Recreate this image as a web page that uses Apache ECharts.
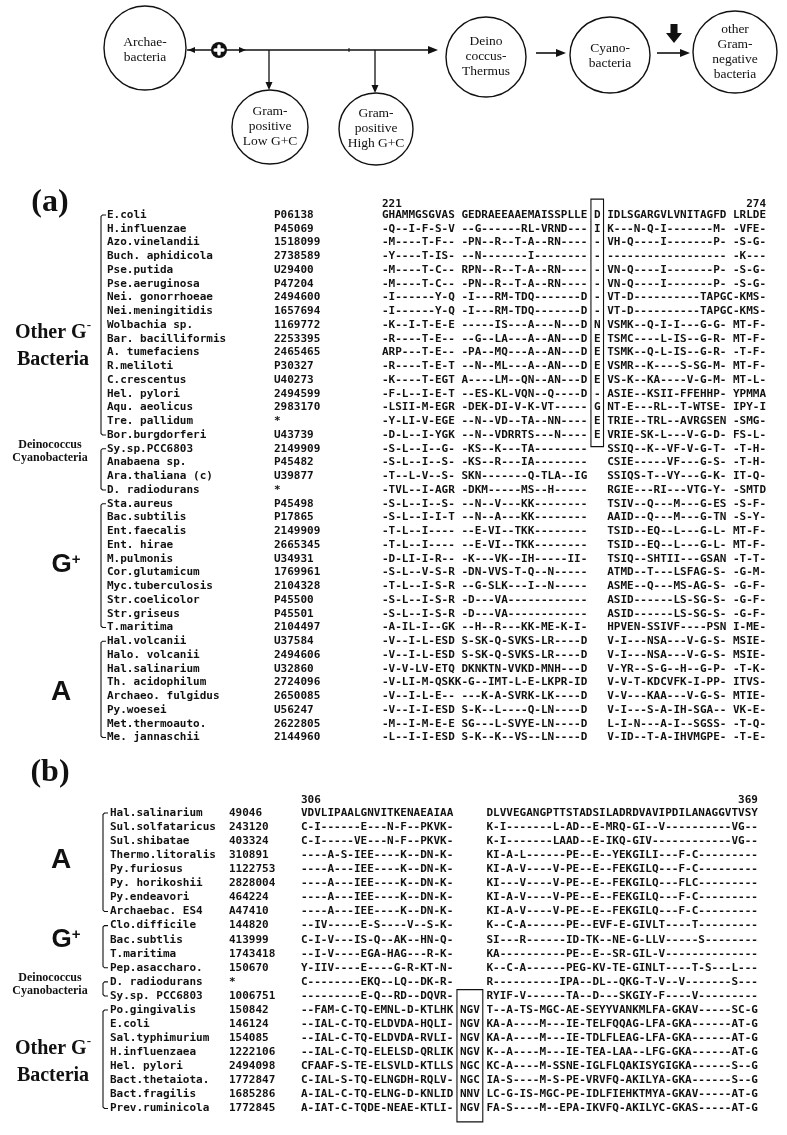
<!DOCTYPE html>
<html><head><meta charset="utf-8">
<script src="https://cdn.jsdelivr.net/npm/echarts@6/dist/echarts.min.js"></script>
<style>html,body{margin:0;padding:0;background:#fff}#c{width:787px;height:1135px}</style>
</head><body><div id="c"></div>
<script>
// ================= DATA =================
const diagramLabels = ['Archae-\nbacteria', 'Gram-\npositive\nLow G+C', 'Gram-\npositive\nHigh G+C',
  'Deino\ncoccus-\nThermus', 'Cyano-\nbacteria', 'other\nGram-\nnegative\nbacteria'];

const aPositions = ['221', '274'];
const aNames = ['E.coli','H.influenzae','Azo.vinelandii','Buch. aphidicola','Pse.putida','Pse.aeruginosa',
  'Nei. gonorrhoeae','Nei.meningitidis','Wolbachia sp.','Bar. bacilliformis','A. tumefaciens','R.meliloti',
  'C.crescentus','Hel. pylori','Aqu. aeolicus','Tre. pallidum','Bor.burgdorferi',
  'Sy.sp.PCC6803','Anabaena sp.','Ara.thaliana (c)','D. radiodurans',
  'Sta.aureus','Bac.subtilis','Ent.faecalis','Ent. hirae','M.pulmonis','Cor.glutamicum','Myc.tuberculosis',
  'Str.coelicolor','Str.griseus','T.maritima',
  'Hal.volcanii','Halo. volcanii','Hal.salinarium','Th. acidophilum','Archaeo. fulgidus','Py.woesei',
  'Met.thermoauto.','Me. jannaschii'];
const aAcc = ['P06138','P45069','1518099','2738589','U29400','P47204','2494600','1657694','1169772','2253395',
  '2465465','P30327','U40273','2494599','2983170','*','U43739','2149909','P45482','U39877','*','P45498','P17865',
  '2149909','2665345','U34931','1769961','2104328','P45500','P45501','2104497','U37584','2494606','U32860',
  '2724096','2650085','U56247','2622805','2144960'];
const aSeq1 = [
  'GHAMMGSGVAS GEDRAEEAAEMAISSPLLE',
  '-Q--I-F-S-V --G------RL-VRND---',
  '-M----T-F-- -PN--R--T-A--RN----',
  '-Y----T-IS- --N-------I--------',
  '-M----T-C-- RPN--R--T-A--RN----',
  '-M----T-C-- -PN--R--T-A--RN----',
  '-I------Y-Q -I---RM-TDQ-------D',
  '-I------Y-Q -I---RM-TDQ-------D',
  '-K--I-T-E-E -----IS---A---N---D',
  '-R----T-E-- --G--LA---A--AN---D',
  'ARP---T-E-- -PA--MQ---A--AN---D',
  '-R----T-E-T --N--ML---A--AN---D',
  '-K----T-EGT A----LM--QN--AN---D',
  '-F-L--I-E-T --ES-KL-VQN--Q----D',
  '-LSII-M-EGR -DEK-DI-V-K-VT-----',
  '-Y-LI-V-EGE --N--VD--TA--NN----',
  '-D-L--I-YGK --N--VDRRTS---N----',
  '-S-L--I--G- -KS--K---TA--------',
  '-S-L--I--S- -KS--R---IA--------',
  '-T--L-V--S- SKN-------Q-TLA--IG',
  '-TVL--I-AGR -DKM-----MS--H-----',
  '-S-L--I--S- --N--V---KK--------',
  '-S-L--I-I-T --N--A---KK--------',
  '-T-L--I---- --E-VI--TKK--------',
  '-T-L--I---- --E-VI--TKK--------',
  '-D-LI-I-R-- -K---VK--IH-----II-',
  '-S-L--V-S-R -DN-VVS-T-Q--N-----',
  '-T-L--I-S-R --G-SLK---I--N-----',
  '-S-L--I-S-R -D---VA------------',
  '-S-L--I-S-R -D---VA------------',
  '-A-IL-I--GK --H--R---KK-ME-K-I-',
  '-V--I-L-ESD S-SK-Q-SVKS-LR----D',
  '-V--I-L-ESD S-SK-Q-SVKS-LR----D',
  '-V-V-LV-ETQ DKNKTN-VVKD-MNH---D',
  '-V-LI-M-QSKK-G--IMT-L-E-LKPR-ID',
  '-V--I-L-E-- ---K-A-SVRK-LK----D',
  '-V--I-I-ESD S-K--L----Q-LN----D',
  '-M--I-M-E-E SG---L-SVYE-LN----D',
  '-L--I-I-ESD S-K--K--VS--LN----D'];
const aBox = ['D','I','-','-','-','-','-','-','N','E','E','E','E','-','G','E','E'];
const aSeq2 = [
  'IDLSGARGVLVNITAGFD LRLDE',
  'K---N-Q-I-------M- -VFE-',
  'VH-Q----I-------P- -S-G-',
  '------------------ -K---',
  'VN-Q----I-------P- -S-G-',
  'VN-Q----I-------P- -S-G-',
  'VT-D----------TAPGC-KMS-',
  'VT-D----------TAPGC-KMS-',
  'VSMK--Q-I-I---G-G- MT-F-',
  'TSMC----L-IS--G-R- MT-F-',
  'TSMK--Q-L-IS--G-R- -T-F-',
  'VSMR--K----S-SG-M- MT-F-',
  'VS-K--KA----V-G-M- MT-L-',
  'ASIE--KSII-FFEHHP- YPMMA',
  'NT-E---RL--T-WTSE- IPY-I',
  'TRIE--TRL--AVRGSEN -SMG-',
  'VRIE-SK-L---V-G-D- FS-L-',
  'SSIQ--K--VF-V-G-T- -T-H-',
  'CSIE-----VF---G-S- -T-H-',
  'SSIQS-T--VY---G-K- IT-Q-',
  'RGIE---RI---VTG-Y- -SMTD',
  'TSIV--Q---M---G-ES -S-F-',
  'AAID--Q---M---G-TN -S-Y-',
  'TSID--EQ--L---G-L- MT-F-',
  'TSID--EQ--L---G-L- MT-F-',
  'TSIQ--SHTII---GSAN -T-T-',
  'ATMD--T---LSFAG-S- -G-M-',
  'ASME--Q---MS-AG-S- -G-F-',
  'ASID------LS-SG-S- -G-F-',
  'ASID------LS-SG-S- -G-F-',
  'HPVEN-SSIVF----PSN I-ME-',
  'V-I---NSA---V-G-S- MSIE-',
  'V-I---NSA---V-G-S- MSIE-',
  'V-YR--S-G--H--G-P- -T-K-',
  'V-V-T-KDCVFK-I-PP- ITVS-',
  'V-V---KAA---V-G-S- MTIE-',
  'V-I---S-A-IH-SGA-- VK-E-',
  'L-I-N---A-I--SGSS- -T-Q-',
  'V-ID--T-A-IHVMGPE- -T-E-'];
const aGroups = [[0, 16], [17, 20], [21, 30], [31, 38]];
const aGroupLabels = ['Other G{sm|-}\nBacteria', 'Deinococcus\nCyanobacteria', 'G{sp|+}', 'A'];

const bPositions = ['306', '369'];
const bNames = ['Hal.salinarium','Sul.solfataricus','Sul.shibatae','Thermo.litoralis','Py.furiosus','Py. horikoshii',
  'Py.endeavori','Archaebac. ES4','Clo.difficile','Bac.subtlis','T.maritima','Pep.asaccharo.','D. radiodurans',
  'Sy.sp. PCC6803','Po.gingivalis','E.coli','Sal.typhimurium','H.influenzaea','Hel. pylori','Bact.thetaiota.',
  'Bact.fragilis','Prev.ruminicola'];
const bAcc = ['49046','243120','403324','310891','1122753','2828004','464224','A47410','144820','413999','1743418',
  '150670','*','1006751','150842','146124','154085','1222106','2494098','1772847','1685286','1772845'];
const bSeq1 = [
  'VDVLIPAALGNVITKENAEAIAA',
  'C-I------E---N-F--PKVK-',
  'C-I-----VE---N-F--PKVK-',
  '----A-S-IEE----K--DN-K-',
  '----A---IEE----K--DN-K-',
  '----A---IEE----K--DN-K-',
  '----A---IEE----K--DN-K-',
  '----A---IEE----K--DN-K-',
  '--IV-----E-S----V--S-K-',
  'C-I-V---IS-Q--AK--HN-Q-',
  '--I-V----EGA-HAG---R-K-',
  'Y-IIV----E----G-R-KT-N-',
  'C--------EKQ--LQ--DK-R-',
  '---------E-Q--RD--DQVR-',
  '--FAM-C-TQ-EMNL-D-KTLHK',
  '--IAL-C-TQ-ELDVDA-HQLI-',
  '--IAL-C-TQ-ELDVDA-RVLI-',
  '--IAL-C-TQ-ELELSD-QRLIK',
  'CFAAF-S-TE-ELSVLD-KTLLS',
  'C-IAL-S-TQ-ELNGDH-RQLV-',
  'A-IAL-C-TQ-ELNG-D-KNLID',
  'A-IAT-C-TQDE-NEAE-KTLI-'];
const bInsert = ['','','','','','','','','','','','','','','NGV','NGV','NGV','NGV','NGC','NGC','NNV','NGV'];
const bSeq2 = [
  'DLVVEGANGPTTSTADSILADRDVAVIPDILANAGGVTVSY',
  'K-I-------L-AD--E-MRQ-GI--V----------VG--',
  'K-I-------LAAD--E-IKQ-GIV------------VG--',
  'KI-A-L------PE--E--YEKGILI---F-C---------',
  'KI-A-V----V-PE--E--FEKGILQ---F-C---------',
  'KI---V----V-PE--E--FEKGILQ---FLC---------',
  'KI-A-V----V-PE--E--FEKGILQ---F-C---------',
  'KI-A-V----V-PE--E--FEKGILQ---F-C---------',
  'K--C-A------PE--EVF-E-GIVLT----T---------',
  'SI---R------ID-TK--NE-G-LLV-----S--------',
  'KA----------PE--E--SR-GIL-V--------------',
  'K--C-A------PEG-KV-TE-GINLT----T-S---L---',
  'R----------IPA--DL--QKG-T-V--V-------S---',
  'RYIF-V------TA--D---SKGIY-F----V---------',
  'T--A-TS-MGC-AE-SEYYVANKMLFA-GKAV-----SC-G',
  'KA-A----M---IE-TELFQQAG-LFA-GKA------AT-G',
  'KA-A----M---IE-TDLFLEAG-LFA-GKA------AT-G',
  'K--A----M---IE-TEA-LAA--LFG-GKA------AT-G',
  'KC-A----M-SSNE-IGLFLQAKISYGIGKA------S--G',
  'IA-S----M-S-PE-VRVFQ-AKILYA-GKA------S--G',
  'LC-G-IS-MGC-PE-IDLFIEHKTMYA-GKAV-----AT-G',
  'FA-S----M--EPA-IKVFQ-AKILYC-GKAS-----AT-G'];
const bGroups = [[0, 7], [8, 11], [12, 13], [14, 21]];
const bGroupLabels = ['A', 'G{sp|+}', 'Deinococcus\nCyanobacteria', 'Other G{sm|-}\nBacteria'];

// ================= LAYOUT / STYLE =================
const FS = 11;
const MONO = 'bold ' + FS + 'px "DejaVu Sans Mono"';
const ctx0 = document.createElement('canvas').getContext('2d');
ctx0.font = MONO;
const CW = ctx0.measureText('MMMMMMMMMM').width / 10;
const INK = '#111';

const LAYOUT = {
  a: { top: 208.1, rowH: 13.75, nameX: 107, accX: 274, seqX: 382, bracketX: 101,
       box: [31.55, 33.45, -1.15, 16.85], headRow: -0.8, totalCols: 58 },
  b: { top: 806, rowH: 14.07, nameX: 110, accX: 229, seqX: 301, bracketX: 103,
       box: [23.55, 27.45, 12.55, 21.95], headRow: -0.92, totalCols: 69 }
};
const SERIF_B = '"Liberation Serif", "Times New Roman", serif';
const SANS_B = '"Liberation Sans", Arial, sans-serif';
const richSup = {
  sm: { fontFamily: SERIF_B, fontWeight: 'bold', fontSize: 13, verticalAlign: 'top', lineHeight: 22 },
  sp: { fontFamily: SANS_B, fontWeight: 'bold', fontSize: 15, verticalAlign: 'top', lineHeight: 26 }
};
const LABEL_STYLE = {
  'Other': { x: 53, font: 'bold 20px ' + SERIF_B, lineHeight: 27 },
  'Deino': { x: 50, font: 'bold 12px ' + SERIF_B, lineHeight: 13 },
  'G': { x: 66, font: 'bold 26px ' + SANS_B, lineHeight: 26 },
  'A': { x: 61, font: 'bold 28px ' + SANS_B, lineHeight: 28 }
};
const aLabelY = [346, 451, 565, 692];
const bLabelY = [860, 940, 984, 1062];

const D = {
  nodes: [
    { cx: 145, cy: 48, rx: 41, ry: 42, ty: 50 },
    { cx: 270, cy: 127, rx: 38, ry: 37, ty: 126 },
    { cx: 376, cy: 129, rx: 37, ry: 36, ty: 128 },
    { cx: 486, cy: 57, rx: 40, ry: 40, ty: 56 },
    { cx: 610, cy: 55, rx: 40, ry: 38, ty: 56 },
    { cx: 735, cy: 52, rx: 42, ry: 41, ty: 52 }
  ],
  font: '13.5px ' + SERIF_B, lh: 15
};

// ================= BUILD =================
const aRows = aSeq1.map((s, i) => s + ' ' + (aBox[i] || ' ') + ' ' + aSeq2[i]);
const bRows = bSeq1.map((s, i) => s + ' ' + (bInsert[i] || '   ') + ' ' + bSeq2[i]);

function txt(x, y, text, font, align) {
  return { type: 'text', x: x, y: y, style: { text: text, font: font || MONO, fill: INK,
    align: align || 'left', verticalAlign: 'middle' } };
}
function rowY(api, r) { return api.coord([0, 0])[1] + r * api.size([0, 1])[1]; }

function panelSeries(P, gi, names, acc, rows, groups, groupLabels, labelY, positions) {
  const common = { type: 'custom', xAxisIndex: gi, yAxisIndex: gi, clip: false, silent: true };
  return [
    Object.assign({}, common, {
      data: names.map((n, i) => [0, i]),
      renderItem: function (params, api) {
        const i = params.dataIndex;
        const y = api.coord([0, i])[1];
        return { type: 'group', children: [
          txt(api.coord([P.nameX, i])[0], y, names[i]),
          txt(api.coord([P.accX, i])[0], y, acc[i]),
          txt(api.coord([P.seqX, i])[0], y, rows[i])
        ] };
      }
    }),
    Object.assign({}, common, {
      data: [P.box],
      renderItem: function (params, api) {
        const b = P.box;
        const x0 = api.coord([P.seqX + b[0] * CW, 0])[0];
        const x1 = api.coord([P.seqX + b[1] * CW, 0])[0];
        const y0 = rowY(api, b[2]), y1 = rowY(api, b[3]);
        return { type: 'rect', shape: { x: x0, y: y0, width: x1 - x0, height: y1 - y0 },
          style: { fill: 'none', stroke: INK, lineWidth: 1.1 } };
      }
    }),
    Object.assign({}, common, {
      data: groups,
      renderItem: function (params, api) {
        const g = groups[params.dataIndex];
        const bx = api.coord([P.bracketX, 0])[0];
        const y0 = api.coord([0, g[0]])[1], y1 = api.coord([0, g[1]])[1];
        const lab = groupLabels[params.dataIndex];
        const key = lab.startsWith('Other') ? 'Other' : lab.startsWith('Deino') ? 'Deino' : lab.startsWith('G') ? 'G' : 'A';
        const st = LABEL_STYLE[key];
        return { type: 'group', children: [
          { type: 'polyline', shape: { points: [[bx + 5, y0], [bx + 1.5, y0], [bx, y0 + 1.5], [bx, y1 - 1.5], [bx + 1.5, y1], [bx + 5, y1]] },
            style: { fill: 'none', stroke: INK, lineWidth: 1.1 } },
          { type: 'text', x: st.x, y: labelY[params.dataIndex],
            style: { text: lab, font: st.font, fill: INK, align: 'center', verticalAlign: 'middle',
              lineHeight: st.lineHeight, rich: richSup } }
        ] };
      }
    }),
    Object.assign({}, common, {
      data: positions.map((p, k) => [k]),
      renderItem: function (params, api) {
        const k = params.dataIndex;
        const y = rowY(api, P.headRow);
        const x = k === 0 ? api.coord([P.seqX, 0])[0] : api.coord([P.seqX + P.totalCols * CW, 0])[0];
        return txt(x, y, positions[k], MONO, k === 0 ? 'left' : 'right');
      }
    })
  ];
}

// diagram graphic
function head(tx, ty, dir, len, half) {
  const pts = dir === 'r' ? [[tx, ty], [tx - len, ty - half], [tx - len, ty + half]] :
              dir === 'l' ? [[tx, ty], [tx + len, ty - half], [tx + len, ty + half]] :
                            [[tx, ty], [tx - half, ty - len], [tx + half, ty - len]];
  return { type: 'polygon', shape: { points: pts }, style: { fill: INK } };
}
function line(x1, y1, x2, y2, w) {
  return { type: 'line', shape: { x1: x1, y1: y1, x2: x2, y2: y2 }, style: { stroke: INK, lineWidth: w || 1.3 } };
}
const g = [];
D.nodes.forEach((n, i) => {
  g.push({ type: 'ellipse', shape: { cx: n.cx, cy: n.cy, rx: n.rx, ry: n.ry }, style: { fill: '#fff', stroke: INK, lineWidth: 1.4 } });
  g.push({ type: 'text', x: n.cx, y: n.ty, style: { text: diagramLabels[i], font: D.font, fill: INK, align: 'center', verticalAlign: 'middle', lineHeight: D.lh } });
});
g.push(line(187, 50, 432, 50));
g.push(head(438, 50, 'r', 10, 4));
g.push(head(188, 50, 'l', 7, 3));
g.push(head(246, 50, 'r', 7, 3));
g.push(line(349, 48, 349, 52, 1));
g.push(line(269, 50, 269, 84));
g.push(head(269, 90, 'd', 8, 3.5));
g.push(line(375, 50, 375, 87));
g.push(head(375, 93, 'd', 8, 3.5));
g.push(line(536, 53, 558, 53, 1.6));
g.push(head(566, 53, 'r', 10, 4));
g.push(line(657, 53, 681, 53, 1.6));
g.push(head(690, 53, 'r', 10, 4));
g.push({ type: 'polygon', shape: { points: [[670.5, 24], [677.5, 24], [677.5, 33], [682, 33], [674, 43], [666, 33], [670.5, 33]] }, style: { fill: INK } });
g.push({ type: 'circle', shape: { cx: 219, cy: 50, r: 8 }, style: { fill: INK } });
g.push({ type: 'rect', shape: { x: 217.3, y: 44.5, width: 3.4, height: 11, r: 1.5 }, style: { fill: '#fff' } });
g.push({ type: 'rect', shape: { x: 213.5, y: 48.3, width: 11, height: 3.4, r: 1.5 }, style: { fill: '#fff' } });
g.push({ type: 'text', x: 50, y: 203, style: { text: '(a)', font: 'bold 32px ' + SERIF_B, fill: INK, align: 'center', verticalAlign: 'middle' } });
g.push({ type: 'text', x: 50, y: 773, style: { text: '(b)', font: 'bold 32px ' + SERIF_B, fill: INK, align: 'center', verticalAlign: 'middle' } });

const A = LAYOUT.a, B = LAYOUT.b;
const option = {
  animation: false,
  backgroundColor: '#fff',
  graphic: { elements: g },
  grid: [
    { left: 0, width: 787, top: A.top, height: aNames.length * A.rowH, containLabel: false },
    { left: 0, width: 787, top: B.top, height: bNames.length * B.rowH, containLabel: false }
  ],
  xAxis: [
    { type: 'value', min: 0, max: 787, show: false, gridIndex: 0 },
    { type: 'value', min: 0, max: 787, show: false, gridIndex: 1 }
  ],
  yAxis: [
    { type: 'category', data: aNames, inverse: true, show: false, gridIndex: 0 },
    { type: 'category', data: bNames, inverse: true, show: false, gridIndex: 1 }
  ],
  series: [].concat(
    panelSeries(A, 0, aNames, aAcc, aRows, aGroups, aGroupLabels, aLabelY, aPositions),
    panelSeries(B, 1, bNames, bAcc, bRows, bGroups, bGroupLabels, bLabelY, bPositions)
  )
};
const chart = echarts.init(document.getElementById('c'), null, { renderer: 'canvas', width: 787, height: 1135 });
chart.setOption(option);
</script></body></html>
